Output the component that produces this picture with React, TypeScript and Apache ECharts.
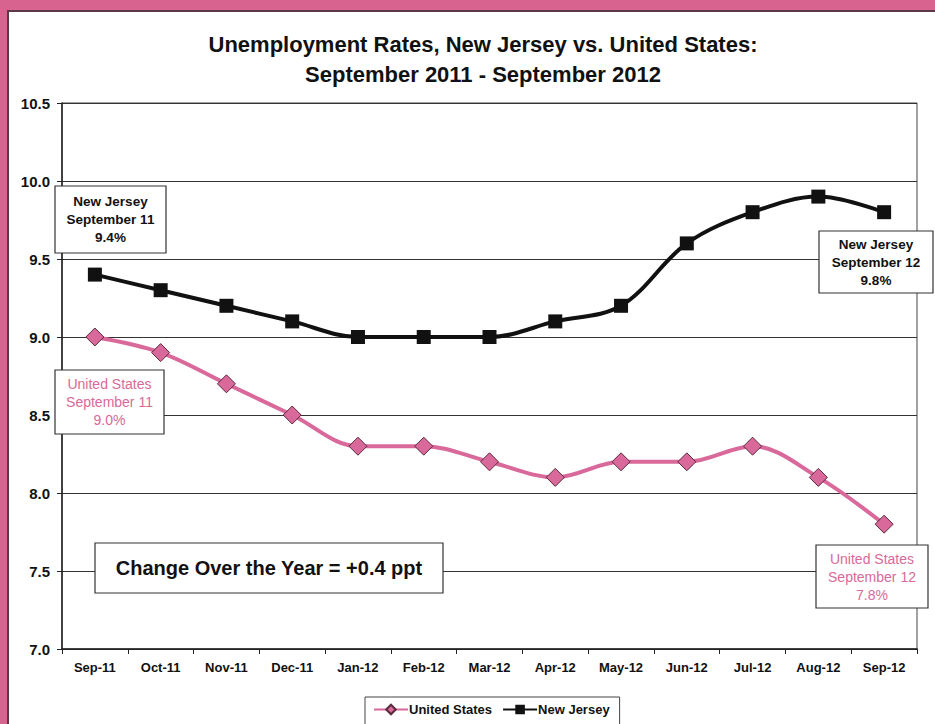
import React, { useEffect, useRef } from "react";
import * as echarts from "echarts";

const categories = ["Sep-11", "Oct-11", "Nov-11", "Dec-11", "Jan-12", "Feb-12", "Mar-12", "Apr-12", "May-12", "Jun-12", "Jul-12", "Aug-12", "Sep-12"];
const unitedStates = [9.0, 8.9, 8.7, 8.5, 8.3, 8.3, 8.2, 8.1, 8.2, 8.2, 8.3, 8.1, 7.8];
const newJersey = [9.4, 9.3, 9.2, 9.1, 9.0, 9.0, 9.0, 9.1, 9.2, 9.6, 9.8, 9.9, 9.8];
const titleLines = ["Unemployment Rates, New Jersey vs. United States:", "September 2011 - September 2012"];
const changeText = "Change Over the Year = +0.4 ppt";
const njStartLabel = ["New Jersey", "September 11", "9.4%"];
const usStartLabel = ["United States", "September 11", "9.0%"];
const njEndLabel = ["New Jersey", "September 12", "9.8%"];
const usEndLabel = ["United States", "September 12", "7.8%"];

const PINK = "#d9699a";
const FONT = "Liberation Sans, Arial, sans-serif";

function box(x: number, y: number, w: number, h: number, lines: string[], color: string, bold: boolean, size: number, lh: number) {
  return [
    { type: "rect", z: 100, shape: { x, y, width: w, height: h }, style: { fill: "#fff", stroke: "#333", lineWidth: 1.2 } },
    {
      type: "text",
      z: 101,
      style: {
        x: x + w / 2,
        y: y + h / 2,
        text: lines.join("\n"),
        textAlign: "center",
        textVerticalAlign: "middle",
        font: `${bold ? "bold " : ""}${size}px ${FONT}`,
        lineHeight: lh,
        fill: color,
      },
    },
  ];
}

export default function App() {
  const ref = useRef<HTMLDivElement>(null);
  useEffect(() => {
    const chart = echarts.init(ref.current!, null, { renderer: "svg" });
    chart.setOption({
      animation: false,
      backgroundColor: "#fff",
      grid: { left: 62, right: 18, top: 103, bottom: 75, show: true, borderColor: "#444", borderWidth: 1, backgroundColor: "transparent" },
      xAxis: {
        type: "category",
        data: categories,
        boundaryGap: true,
        axisLine: { lineStyle: { color: "#222", width: 1.5 } },
        axisTick: { show: true, length: 5, lineStyle: { color: "#222" } },
        axisLabel: { color: "#111", fontWeight: "bold", fontSize: 13, fontFamily: FONT, margin: 12 },
      },
      yAxis: {
        type: "value",
        min: 7,
        max: 10.5,
        interval: 0.5,
        axisLine: { show: true, lineStyle: { color: "#222", width: 1.5 } },
        axisTick: { show: true, length: 5, lineStyle: { color: "#222" } },
        axisLabel: { color: "#111", fontWeight: "bold", fontSize: 15, fontFamily: FONT, margin: 12, formatter: (v: number) => v.toFixed(1) },
        splitLine: { show: true, lineStyle: { color: "#333", width: 1 } },
      },
      legend: {
        left: 365,
        top: 697,
        itemGap: 10,
        itemWidth: 34,
        itemHeight: 12,
        padding: [6, 10, 10, 8],
        borderColor: "#444",
        borderWidth: 1,
        backgroundColor: "#fff",
        textStyle: { fontWeight: "bold", fontSize: 13, fontFamily: FONT, color: "#111", padding: [0, 0, 0, -4] },
        data: ["United States", "New Jersey"],
      },
      series: [
        {
          name: "United States",
          type: "line",
          data: unitedStates,
          smooth: 0.35,
          symbol: "diamond",
          symbolSize: 18,
          lineStyle: { color: PINK, width: 4 },
          itemStyle: { color: PINK, borderColor: "#5a2a3c", borderWidth: 1 },
          z: 3,
        },
        {
          name: "New Jersey",
          type: "line",
          data: newJersey,
          smooth: 0.35,
          symbol: "rect",
          symbolSize: 14,
          lineStyle: { color: "#111", width: 4 },
          itemStyle: { color: "#111" },
          z: 3,
        },
      ],
      graphic: [
        { type: "rect", shape: { x: 0, y: 0, width: 935, height: 10 }, style: { fill: "#d8638f" }, z: 200 },
        { type: "rect", shape: { x: 0, y: 0, width: 7, height: 724 }, style: { fill: "#d8638f" }, z: 200 },
        { type: "line", shape: { x1: 7, y1: 11, x2: 935, y2: 11 }, style: { stroke: "#5a3a46", lineWidth: 2 }, z: 200 },
        { type: "line", shape: { x1: 8, y1: 11, x2: 8, y2: 724 }, style: { stroke: "#5a3a46", lineWidth: 2 }, z: 200 },
        {
          type: "text",
          z: 100,
          style: {
            x: 483,
            y: 59,
            text: titleLines.join("\n"),
            textAlign: "center",
            textVerticalAlign: "middle",
            font: `bold 22px ${FONT}`,
            lineHeight: 30,
            fill: "#111",
          },
        },
        ...box(55, 186, 111, 67, njStartLabel, "#111", true, 13.5, 18),
        ...box(55, 370, 109, 64, usStartLabel, PINK, false, 14, 18),
        ...box(819, 231, 114, 62, njEndLabel, "#111", true, 13.5, 18),
        ...box(816, 545, 112, 63, usEndLabel, PINK, false, 14, 18),
        ...box(95, 543, 348, 50, [changeText], "#111", true, 20, 24),
      ],
    });
    return () => chart.dispose();
  }, []);
  return <div ref={ref} style={{ position: "fixed", left: 0, top: 0, width: 935, height: 724 }} />;
}
